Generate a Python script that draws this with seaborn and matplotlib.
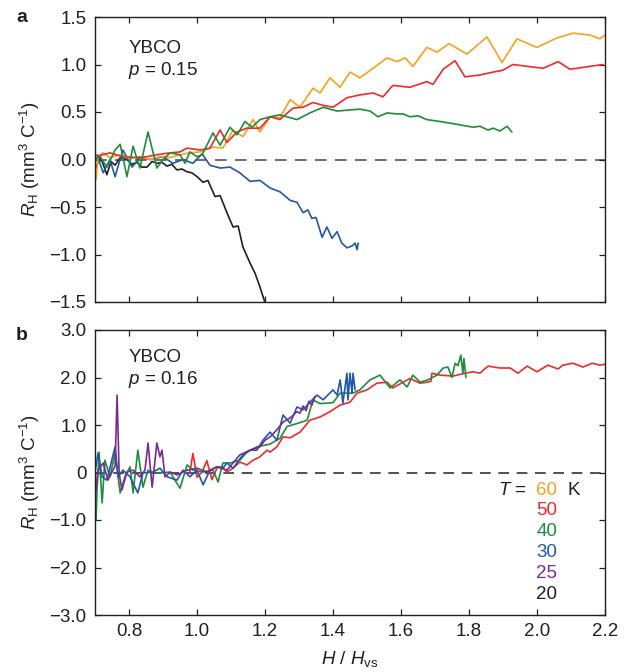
import numpy as np
import pandas as pd
import matplotlib
matplotlib.use("Agg")
import matplotlib.pyplot as plt
import seaborn as sns

# ---------------- data ----------------
# Panel a : YBCO p = 0.15
a60_x = [0.703,0.709,0.724,0.744,0.774,0.803,0.832,0.862,0.891,0.921,0.950,0.979,1.009,1.047,1.076,1.106,1.135,1.165,1.185,1.215,1.244,1.274,1.303,1.341,1.362,1.391,1.421,1.450,1.479,1.518,1.559,1.588,1.612,1.635,1.676,1.706,1.741,1.794,1.853,1.897,1.941,2.000,2.059,2.106,2.156,2.185,2.200]
a60_y = [-0.21,0.03,0.07,0.02,0.05,0.01,0.03,0.00,0.03,0.02,0.05,0.07,0.08,0.13,0.12,0.31,0.24,0.42,0.29,0.45,0.44,0.63,0.55,0.75,0.70,0.86,0.76,0.92,0.86,0.96,1.07,1.03,1.07,0.98,1.18,1.13,1.22,1.11,1.29,1.02,1.27,1.18,1.28,1.33,1.31,1.27,1.31]

a50_x = [0.703,0.744,0.782,0.824,0.853,0.882,0.921,0.950,0.971,1.009,1.038,1.068,1.088,1.118,1.147,1.185,1.215,1.244,1.282,1.312,1.341,1.371,1.400,1.441,1.479,1.518,1.547,1.576,1.626,1.676,1.694,1.724,1.759,1.788,1.832,1.871,1.900,1.929,2.018,2.062,2.097,2.194]
a50_y = [0.03,0.07,0.03,0.02,0.03,0.05,0.07,0.08,0.12,0.10,0.12,0.31,0.18,0.29,0.33,0.33,0.45,0.42,0.54,0.55,0.60,0.57,0.55,0.65,0.68,0.70,0.66,0.78,0.76,0.82,0.79,0.95,1.04,0.87,0.89,0.92,0.94,1.00,0.96,1.03,0.95,1.00]

a40_x = [0.700,0.715,0.735,0.759,0.774,0.794,0.812,0.832,0.856,0.882,0.900,0.921,0.950,0.965,0.979,1.000,1.015,1.047,1.068,1.097,1.118,1.141,1.162,1.185,1.215,1.244,1.294,1.332,1.371,1.412,1.479,1.509,1.532,1.559,1.588,1.606,1.626,1.650,1.676,1.715,1.765,1.812,1.832,1.856,1.871,1.891,1.912,1.926]
a40_y = [0.00,0.03,-0.08,0.10,0.16,-0.18,0.14,-0.09,0.29,-0.09,0.00,0.07,0.05,-0.04,0.08,0.03,0.05,0.28,0.15,0.34,0.26,0.40,0.34,0.42,0.45,0.47,0.42,0.49,0.55,0.51,0.53,0.51,0.45,0.49,0.48,0.48,0.45,0.46,0.42,0.40,0.37,0.34,0.35,0.31,0.33,0.30,0.35,0.29]

a30_x = [0.706,0.724,0.744,0.759,0.782,0.809,0.832,0.862,0.900,0.929,0.959,0.988,1.015,1.038,1.068,1.097,1.126,1.156,1.185,1.215,1.244,1.274,1.294,1.312,1.326,1.338,1.350,1.368,1.382,1.397,1.412,1.426,1.441,1.456,1.465,1.471,1.474]
a30_y = [0.05,-0.14,0.00,-0.18,0.10,-0.08,0.02,0.00,0.03,-0.04,0.00,-0.04,0.06,-0.06,-0.09,-0.08,-0.14,-0.23,-0.22,-0.30,-0.34,-0.43,-0.45,-0.56,-0.53,-0.62,-0.61,-0.82,-0.71,-0.83,-0.76,-0.88,-0.93,-0.91,-0.88,-0.95,-0.88]

a20_x = [0.700,0.715,0.724,0.735,0.747,0.759,0.774,0.794,0.809,0.824,0.838,0.853,0.868,0.882,0.897,0.912,0.926,0.941,0.956,0.971,0.985,1.000,1.018,1.032,1.053,1.068,1.088,1.106,1.121,1.135,1.156,1.171,1.185,1.202]
a20_y = [-0.11,0.03,-0.05,-0.16,-0.02,-0.06,0.02,0.00,-0.05,-0.03,-0.08,-0.08,-0.02,-0.04,-0.03,-0.07,-0.05,-0.11,-0.10,-0.13,-0.14,-0.18,-0.24,-0.22,-0.39,-0.38,-0.56,-0.71,-0.70,-0.92,-1.09,-1.20,-1.34,-1.53]

# Panel b : YBCO p = 0.16
b50_x = [0.979,0.988,1.000,1.015,1.029,1.044,1.059,1.074,1.088,1.106,1.126,1.147,1.165,1.185,1.206,1.215,1.235,1.253,1.274,1.303,1.332,1.362,1.391,1.421,1.450,1.471,1.500,1.529,1.559,1.576,1.606,1.626,1.656,1.676,1.688,1.691,1.715,1.753,1.788,1.812,1.832,1.856,1.891,1.921,1.944,1.971,2.000,2.032,2.062,2.076,2.106,2.135,2.162,2.185,2.200]
b50_y = [0.00,0.40,-0.10,0.01,0.25,-0.15,0.10,0.12,0.01,0.09,0.22,0.16,0.26,0.33,0.47,0.43,0.54,0.75,0.73,0.85,1.10,1.17,1.28,1.42,1.48,1.67,1.74,1.88,1.90,1.78,1.90,1.98,1.88,1.90,1.92,2.09,2.05,2.03,2.09,2.12,2.09,2.24,2.20,2.20,2.09,2.24,2.12,2.26,2.18,2.26,2.30,2.22,2.30,2.26,2.28]

b40_x = [0.700,0.703,0.706,0.712,0.721,0.729,0.744,0.759,0.774,0.788,0.803,0.812,0.826,0.841,0.856,0.871,0.891,0.921,0.935,0.950,0.971,0.988,1.018,1.047,1.062,1.076,1.097,1.126,1.147,1.176,1.215,1.244,1.265,1.294,1.324,1.341,1.362,1.400,1.421,1.459,1.479,1.509,1.538,1.568,1.597,1.618,1.635,1.656,1.679,1.706,1.724,1.738,1.750,1.759,1.768,1.776,1.782,1.785,1.791]
b40_y = [0.30,-1.00,-0.37,0.43,-0.64,0.26,-0.09,0.41,-0.43,-0.09,0.12,-0.43,0.47,-0.31,0.05,-0.01,-0.01,0.01,-0.16,-0.33,0.16,0.05,0.01,0.05,-0.20,0.20,0.20,0.26,0.43,0.54,0.60,0.72,0.97,1.03,1.10,1.53,1.45,1.47,1.67,1.67,1.74,1.95,2.05,1.78,1.95,1.80,2.05,1.90,1.95,2.05,2.20,2.22,2.00,2.30,2.25,2.47,2.09,2.40,2.00]

b30_x = [0.700,0.709,0.721,0.735,0.759,0.768,0.782,0.803,0.826,0.841,0.871,0.891,0.912,0.941,0.959,0.979,1.000,1.018,1.038,1.059,1.076,1.088,1.106,1.135,1.156,1.176,1.194,1.215,1.235,1.253,1.274,1.294,1.312,1.332,1.353,1.371,1.400,1.412,1.421,1.429,1.441,1.444,1.450,1.456,1.459,1.465]
b30_y = [0.00,0.41,-0.09,-0.16,0.54,-0.09,0.05,-0.09,-0.43,-0.01,0.01,0.09,-0.09,-0.16,0.05,-0.09,0.05,-0.26,0.05,0.12,0.09,0.20,0.09,0.37,0.47,0.47,0.68,0.85,0.68,1.21,1.04,1.38,1.32,1.48,1.63,1.53,1.74,1.63,1.95,1.46,2.09,1.53,2.09,1.67,2.09,1.74]

b25_x = [0.700,0.709,0.724,0.738,0.753,0.759,0.765,0.771,0.779,0.794,0.812,0.832,0.847,0.856,0.868,0.882,0.891,0.897,0.906,0.921,0.941,0.971,1.000,1.029,1.059,1.088,1.106,1.126,1.156,1.185,1.200,1.215,1.235,1.253,1.274,1.294,1.303,1.312,1.321,1.329,1.338,1.347]
b25_y = [-0.52,0.05,0.20,-0.16,0.05,0.14,1.63,-0.01,-0.37,0.01,0.05,-0.09,0.05,0.62,-0.31,0.62,0.33,0.47,-0.09,0.01,-0.05,0.05,0.09,0.01,0.12,0.05,0.20,0.37,0.47,0.54,0.68,0.75,0.90,1.06,1.15,1.28,1.25,1.40,1.30,1.50,1.42,1.60]

temps = [60, 50, 40, 30, 25, 20]
colors = {60: "#F7A21B", 50: "#EE2A2A", 40: "#1E8C3A", 30: "#2157A8", 25: "#7A2B92", 20: "#231F20"}

panel_a = {60: (a60_x, a60_y), 50: (a50_x, a50_y), 40: (a40_x, a40_y),
           30: (a30_x, a30_y), 20: (a20_x, a20_y)}
panel_b = {50: (b50_x, b50_y), 40: (b40_x, b40_y), 30: (b30_x, b30_y),
           25: (b25_x, b25_y)}

xticks = [0.8, 1.0, 1.2, 1.4, 1.6, 1.8, 2.0, 2.2]
xticklabels = ["0.8", "1.0", "1.2", "1.4", "1.6", "1.8", "2.0", "2.2"]
a_yticks = [1.5, 1.0, 0.5, 0.0, -0.5, -1.0, -1.5]
a_yticklabels = ["1.5", "1.0", "0.5", "0.0", "\u22120.5", "\u22121.0", "\u22121.5"]
b_yticks = [3.0, 2.0, 1.0, 0.0, -1.0, -2.0, -3.0]
b_yticklabels = ["3.0", "2.0", "1.0", "0", "\u22121.0", "\u22122.0", "\u22123.0"]

# ---------------- style ----------------
sns.set_style("ticks")
plt.rcParams["font.family"] = ["Liberation Sans", "DejaVu Sans"]
plt.rcParams["mathtext.fontset"] = "custom"
plt.rcParams["mathtext.rm"] = "Liberation Sans"
plt.rcParams["mathtext.it"] = "Liberation Sans:italic"
plt.rcParams["xtick.direction"] = "in"
plt.rcParams["ytick.direction"] = "in"

FS = 13.5
INK = "#231F20"

fig = plt.figure(figsize=(6.3, 6.72), dpi=100)
axa = fig.add_axes([95/630, 1-302/672, 510/630, 285/672])
axb = fig.add_axes([95/630, 1-615/672, 510/630, 285/672])

def draw(ax, curves, order):
    for T in order:
        if T not in curves:
            continue
        xs, ys = curves[T]
        df = pd.DataFrame({"x": xs, "y": ys})
        sns.lineplot(data=df, x="x", y="y", ax=ax, color=colors[T], lw=1.2,
                     sort=False, estimator=None, legend=False)

axa.axhline(0, color="#555555", lw=1.2, ls=(0, (7, 5)), zorder=0)
axb.axhline(0, color="#222222", lw=1.1, ls=(0, (7, 5)), zorder=0)
draw(axa, panel_a, [20, 30, 60, 50, 40])
draw(axb, panel_b, [50, 40, 30, 25])

for ax in (axa, axb):
    ax.set_xlim(0.7, 2.2)
    ax.set_xticks(xticks)
    ax.tick_params(axis="both", which="both", direction="in", top=True, right=True,
                   length=4, width=0.9, labelsize=FS, colors=INK, pad=6)
    for s in ax.spines.values():
        s.set_linewidth(1.0)
        s.set_color(INK)
    ax.set_xlabel("")
    ax.set_ylabel("$R_{\\rm H}$ (mm$^3$ C$^{-1}$)", fontsize=FS, color=INK, labelpad=5)

axa.set_ylim(-1.5, 1.5)
axa.set_yticks(a_yticks)
axa.set_yticklabels(a_yticklabels)
axa.tick_params(labelbottom=False)

axb.set_ylim(-3.0, 3.0)
axb.set_yticks(b_yticks)
axb.set_yticklabels(b_yticklabels)
axb.set_xticklabels(xticklabels)
axb.set_xlabel("$H$ / $H_{\\rm vs}$", fontsize=FS, color=INK, labelpad=6)

axa.text(0.065, 0.891, "YBCO", transform=axa.transAxes, fontsize=FS, va="center", color=INK)
axa.text(0.065, 0.814, "$p$ = 0.15", transform=axa.transAxes, fontsize=FS, va="center", color=INK)
axb.text(0.065, 0.905, "YBCO", transform=axb.transAxes, fontsize=FS, va="center", color=INK)
axb.text(0.065, 0.825, "$p$ = 0.16", transform=axb.transAxes, fontsize=FS, va="center", color=INK)

fig.text(22/630, 1-17/672, "a", fontsize=14, fontweight="bold", va="center", ha="center", color=INK)
fig.text(22/630, 1-335/672, "b", fontsize=14, fontweight="bold", va="center", ha="center", color=INK)

# legend as coloured text
leg_rows = [-0.37, -0.81, -1.25, -1.69, -2.13, -2.57]
axb.text(1.971, leg_rows[0], "$T$ =", fontsize=FS, ha="right", va="center", color=INK)
for T, yy in zip(temps, leg_rows):
    axb.text(2.029, yy, str(T), fontsize=FS, ha="center", va="center", color=colors[T])
axb.text(2.09, leg_rows[0], "K", fontsize=FS, ha="left", va="center", color=INK)

fig.savefig("out.png", dpi=100)
